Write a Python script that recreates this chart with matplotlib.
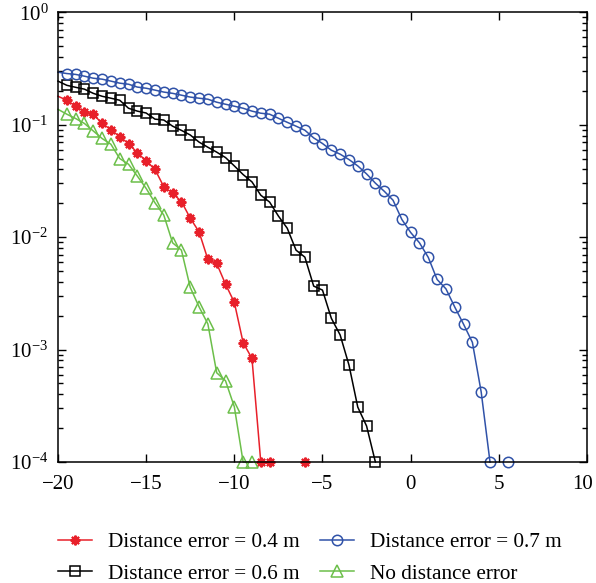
import numpy as np
import matplotlib
matplotlib.use('Agg')
import matplotlib.pyplot as plt
import matplotlib.transforms as mtransforms
from matplotlib.ticker import LogLocator, NullFormatter, FixedLocator

plt.rcParams['font.family'] = 'Liberation Serif'
plt.rcParams['mathtext.fontset'] = 'stix'

# SNR grids (first point at -20 has no marker)
x_red = np.arange(-20, -5.9, 0.5)
x_black = np.arange(-20, -1.9, 0.5)
x_blue = np.arange(-20, 5.6, 0.5)
x_green = np.arange(-20, -8.9, 0.5)

nan = np.nan
red = [0.179, 0.165, 0.146, 0.13, 0.124, 0.1025, 0.0906, 0.078, 0.068, 0.0562,
       0.0477, 0.040, 0.0281, 0.0246, 0.0207, 0.01476, 0.01114, 0.00634, 0.00583,
       0.00382, 0.00263, 0.00115, 0.000835, 1e-4, 1e-4, nan, nan, nan, 1e-4]
black = [0.244, 0.224, 0.215, 0.207, 0.19, 0.179, 0.172, 0.165, 0.14, 0.132,
         0.127, 0.112, 0.11, 0.097, 0.089, 0.081, 0.07, 0.063, 0.057, 0.051,
         0.043, 0.036, 0.031, 0.0236, 0.0205, 0.0154, 0.012, 0.00766, 0.00664,
         0.00367, 0.00338, 0.0019, 0.00135, 0.00073, 0.000308, 0.000209, 1e-4]
blue = [0.293, 0.285, 0.280, 0.27, 0.259, 0.254, 0.244, 0.234, 0.229, 0.216,
        0.211, 0.203, 0.195, 0.19, 0.183, 0.176, 0.172, 0.1685, 0.1585, 0.152,
        0.146, 0.140, 0.132, 0.1265, 0.124, 0.114, 0.105, 0.097, 0.0893,
        0.0763, 0.068, 0.0593, 0.0547, 0.049, 0.043, 0.0365, 0.0302, 0.0256,
        0.0213, 0.01436, 0.011, 0.0089, 0.0066, 0.0042, 0.00347, 0.00239,
        0.00168, 0.00116, 0.000419, 1e-4, nan, 1e-4]
green = [0.137, 0.124, 0.1135, 0.1025, 0.088, 0.0754, 0.067, 0.05, 0.0445,
         0.0349, 0.0271, 0.0202, 0.0157, 0.0089, 0.00766, 0.00357, 0.0024,
         0.00169, 0.000622, 0.000528, 0.00031, 1e-4, 1e-4]

fig = plt.figure(figsize=(5.96, 5.83), dpi=100)
ax = fig.add_axes([0.0973, 0.2075, 0.8876, 0.7715])

ax.plot(x_red, red, color='#e8202a', lw=1.1, marker=(8, 2, 0), ms=7, mew=1.5,
        markevery=range(1, len(red)), clip_on=False, label='Distance error = 0.4 m')
ax.plot(x_black, black, color='black', lw=1.1, marker='s', ms=7.5, mfc='none', mew=1.1,
        markevery=range(1, len(black)), clip_on=False, label='Distance error = 0.6 m')
ax.plot(x_blue, blue, color='#3052a8', lw=1.1, marker='o', ms=7.5, mfc='none', mew=1.1,
        markevery=range(1, len(blue)), clip_on=False, label='Distance error = 0.7 m')
ax.plot(x_green, green, color='#6cbf4a', lw=1.1, marker='^', ms=8, mfc='none', mew=1.1,
        markevery=range(1, len(green)), clip_on=False, label='No distance error')

ax.set_yscale('log')
ax.set_xlim(-20, 10)
ax.set_ylim(1e-4, 1)
ax.xaxis.set_major_locator(FixedLocator([-20, -15, -10, -5, 0, 5, 10]))
ax.yaxis.set_major_locator(LogLocator(base=10, numticks=10))
ax.yaxis.set_minor_locator(LogLocator(base=10, subs=np.arange(2, 10), numticks=10))
ax.yaxis.set_minor_formatter(NullFormatter())
ax.tick_params(which='both', direction='in', top=True, right=True, labelsize=15)
ax.tick_params(which='major', length=6, width=1)
ax.tick_params(which='minor', length=3.5, width=1)
ax.tick_params(axis='x', pad=9)
ax.tick_params(axis='y', pad=7)
for s in ax.spines.values():
    s.set_linewidth(1.1)

# nudge the "10" label so it stays inside the figure
last = ax.xaxis.get_majorticklabels()[-1]
last.set_transform(last.get_transform() +
                   mtransforms.ScaledTranslation(-3 / 72, 0, fig.dpi_scale_trans))

ax.legend(ncol=2, loc='center', bbox_to_anchor=(0.52, 1 - 558 / 583),
          bbox_transform=fig.transFigure, frameon=False,
          fontsize=15.3, handlelength=1.6, columnspacing=0.95, labelspacing=0.55,
          handletextpad=0.75, borderpad=0)

fig.savefig('out.png', dpi=100)
